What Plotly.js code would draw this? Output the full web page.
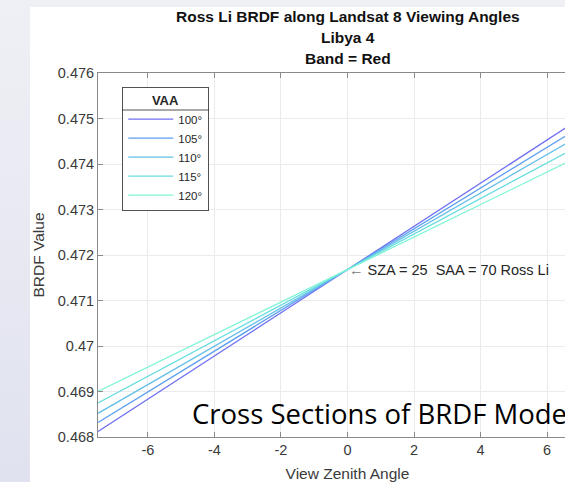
<!DOCTYPE html>
<html>
<head>
<meta charset="utf-8">
<script src="https://cdn.plot.ly/plotly-3.0.1.min.js"></script>
<style>
  html, body { margin:0; padding:0; width:565px; height:482px; overflow:hidden;
    background: linear-gradient(to bottom, #eff0f5, #e0e2ef); }
  #chart { position:absolute; left:30px; top:7px; width:620px; height:475px; }
</style>
</head>
<body>
<div id="chart"></div>
<script>
// View zenith angle samples (deg)
const vza = [-7.5, 0, 7.5];
// View azimuth angles (legend)
const vaaLabels = ['100°', '105°', '110°', '115°', '120°'];
// BRDF values
const brdf100 = [0.46812, 0.47168, 0.47524];
const brdf105 = [0.46832, 0.47168, 0.47504];
const brdf110 = [0.46852, 0.47168, 0.47484];
const brdf115 = [0.46875, 0.47168, 0.47461];
const brdf120 = [0.46900, 0.47168, 0.47436];
const xTickVals = [-6, -4, -2, 0, 2, 4, 6];
const xTickText = ['-6', '-4', '-2', '0', '2', '4', '6'];
const yTickVals = [0.468, 0.469, 0.470, 0.471, 0.472, 0.473, 0.474, 0.475, 0.476];
const yTickText = ['0.468', '0.469', '0.47', '0.471', '0.472', '0.473', '0.474', '0.475', '0.476'];
const markerPoint = [0, 0.47168];

const series = [brdf100, brdf105, brdf110, brdf115, brdf120];
const colors = ['#6f6ff2', '#5c9ef0', '#63bfe9', '#68dde0', '#7ff5d6'];

const FONT = 'Liberation Sans, Arial, sans-serif';
const traces = series.map((ys, i) => ({
  x: vza, y: ys, type: 'scatter', mode: 'lines', name: vaaLabels[i],
  line: { color: colors[i], width: 1.3 }
}));

const axisCommon = {
  showgrid: true, gridcolor: '#ebebeb', gridwidth: 1,
  zeroline: false, showline: true, linecolor: '#8a8a8a', linewidth: 1,
  mirror: 'ticks', ticks: 'inside', ticklen: 5, tickcolor: '#8a8a8a',
  tickfont: { family: FONT, size: 14.5, color: '#3a3a3a' },
  automargin: false
};

// legend box geometry in paper coords (plot area 499 x 364 px)
const lgX0 = (122 - 98) / 499, lgX1 = (209 - 98) / 499;
const lgY0 = (437 - 87) / 364, lgY1 = (437 - 211) / 364, lgSep = (437 - 110) / 364;

const layout = {
  width: 620, height: 475,
  margin: { l: 68, r: 53, t: 66, b: 45 },
  paper_bgcolor: '#ffffff', plot_bgcolor: '#ffffff',
  font: { family: FONT, color: '#262626' },
  showlegend: true,
  legend: {
    x: 0.049, y: 0.9615, xanchor: 'left', yanchor: 'top',
    bgcolor: 'rgba(0,0,0,0)', bordercolor: '#262626', borderwidth: 0.8,
    itemwidth: 45,
    font: { family: FONT, size: 11.5, color: '#262626' },
    title: { text: '<b>VAA</b>', side: 'top center', font: { family: FONT, size: 13, color: '#262626' } }
  },
  xaxis: Object.assign({}, axisCommon, {
    range: [-7.5, 7.5], tickvals: xTickVals, ticktext: xTickText,
    title: { text: 'View Zenith Angle', font: { family: FONT, size: 15.5, color: '#3a3a3a' }, standoff: 11 }
  }),
  yaxis: Object.assign({}, axisCommon, {
    range: [0.468, 0.476], tickvals: yTickVals, ticktext: yTickText,
    title: { text: 'BRDF Value', font: { family: FONT, size: 15.5, color: '#3a3a3a' }, standoff: 10 }
  }),
  annotations: [
    { text: '<b>Ross Li BRDF along Landsat 8 Viewing Angles</b>', xref: 'paper', yref: 'paper',
      x: 0.5, y: 1 + 57/364, xanchor: 'center', yanchor: 'middle', showarrow: false,
      font: { family: FONT, size: 15.5, color: '#111' } },
    { text: '<b>Libya 4</b>', xref: 'paper', yref: 'paper',
      x: 0.5, y: 1 + 35/364, xanchor: 'center', yanchor: 'middle', showarrow: false,
      font: { family: FONT, size: 15.5, color: '#111' } },
    { text: '<b>Band = Red</b>', xref: 'paper', yref: 'paper',
      x: 0.5, y: 1 + 14/364, xanchor: 'center', yanchor: 'middle', showarrow: false,
      font: { family: FONT, size: 15.5, color: '#111' } },
    { text: '<span style="color:#7a7a7a">←</span> SZA = 25&nbsp; SAA = 70 Ross Li', xref: 'x', yref: 'y',
      x: markerPoint[0], y: markerPoint[1], xanchor: 'left', yanchor: 'middle', xshift: -1, showarrow: false,
      font: { family: FONT, size: 14.5, color: '#262626' } },
    { text: 'Cross Sections of BRDF Model', xref: 'paper', yref: 'paper',
      x: (190 - 98) / 499, y: (437 - 413) / 364, xanchor: 'left', yanchor: 'middle', showarrow: false,
      font: { family: 'Open Sans, sans-serif', size: 27.5, color: '#000000' } }
  ],
  shapes: [
    { type: 'rect', xref: 'paper', yref: 'paper', layer: 'above',
      x0: lgX0, x1: lgX1, y0: lgY1, y1: lgY0,
      fillcolor: '#ffffff', line: { width: 0 } },
    { type: 'line', xref: 'paper', yref: 'paper', layer: 'above',
      x0: lgX0, x1: lgX1, y0: lgSep, y1: lgSep,
      line: { color: '#262626', width: 0.8 } }
  ]
};

Plotly.newPlot('chart', traces, layout, { displayModeBar: false, staticPlot: true });
</script>
</body>
</html>
